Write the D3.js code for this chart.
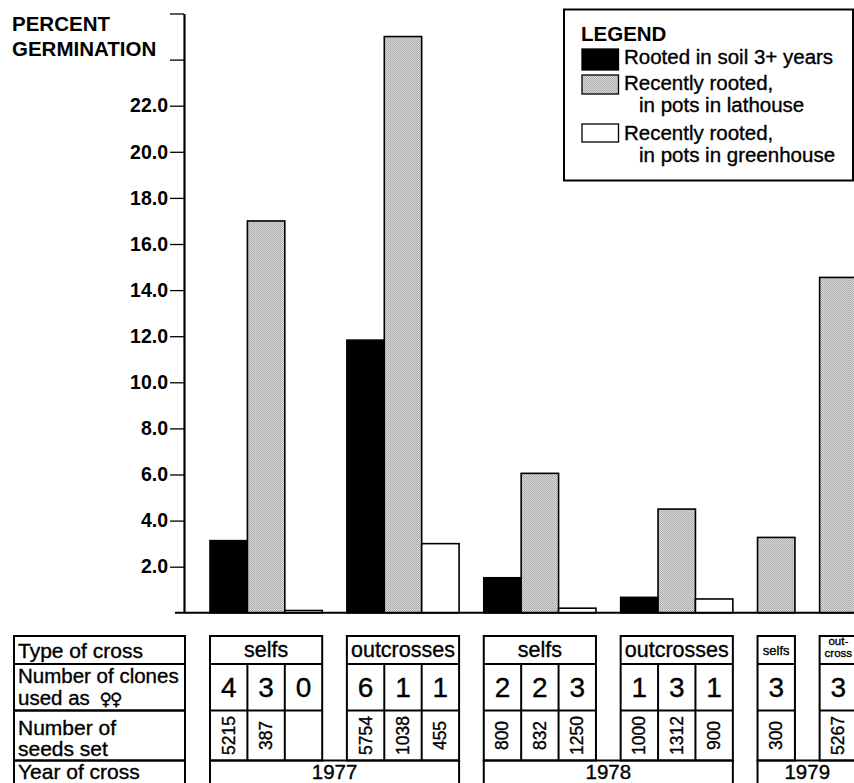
<!DOCTYPE html>
<html><head><meta charset="utf-8">
<script src="https://cdn.jsdelivr.net/npm/d3@7"></script>
<style>
html,body{margin:0;padding:0;background:#fff;}
svg{display:block;font-family:"Liberation Sans",Arial,Helvetica,sans-serif;}
.ink{stroke:#000;stroke-width:0.35px;}
</style></head><body>
<svg id="chart" width="854" height="783"></svg>
<script>
// Germination of seed from crosses, by year and type of cross
const crossTypes   = ["selfs", "outcrosses", "selfs", "outcrosses", "selfs", "out-|cross"];
const crossYears   = ["1977", "1977", "1978", "1978", "1979", "1979"];
const soilValues       = [3.13, 11.83, 1.52, 0.67, null, null];   // rooted in soil 3+ years
const lathouseValues   = [17.0, 25.0, 6.05, 4.5, 3.27, 14.55];    // recently rooted, lathouse
const greenhouseValues = [0.1, 3.0, 0.2, 0.6, null, null];        // recently rooted, greenhouse
const clonesUsed = [[4, 3, 0], [6, 1, 1], [2, 2, 3], [1, 3, 1], [3], [3]];
const seedsSet   = [["5215", "387", ""], ["5754", "1038", "455"], ["800", "832", "1250"],
                    ["1000", "1312", "900"], ["300"], ["5267"]];
const labeledTicks = [2, 4, 6, 8, 10, 12, 14, 16, 18, 20, 22];
const plainTicks   = [24, 26];
const rowLabels = [["Type of cross"], ["Number of clones", "used as "],
                   ["Number of", "seeds set"], ["Year of cross"]];
const femaleSign = "\u2640\u2640";
const legendLabels = [["Rooted in soil 3+ years"], ["Recently rooted,", "in pots in lathouse"],
                      ["Recently rooted,", "in pots in greenhouse"]];

const svg = d3.select("#chart");
const FONT = '"Liberation Sans", Arial, Helvetica, sans-serif';

// halftone-like grey fill
const defs = svg.append("defs");
const pat = defs.append("pattern").attr("id", "screen")
  .attr("width", 2).attr("height", 2).attr("patternUnits", "userSpaceOnUse");
pat.append("rect").attr("width", 2).attr("height", 2).attr("fill", "#d9d9d9");
pat.append("rect").attr("width", 1).attr("height", 1).attr("fill", "#a6a6a6");
pat.append("rect").attr("x", 1).attr("y", 1).attr("width", 1).attr("height", 1).attr("fill", "#b2b2b2");
const fills = ["#000", "url(#screen)", "#fff"];

// slot layout: one slot per bar/column, with a gap between groups
const slotGap = 0.66;
const groupStart = [];
let acc = 0;
clonesUsed.forEach(c => { groupStart.push(acc); acc += c.length + slotGap; });

const x = d3.scaleLinear().domain([0, 1]).range([210, 247.4]);
const y = d3.scaleLinear().domain([0, 26]).range([612.8, 13.5]);

// bars
const bars = [];
clonesUsed.forEach((c, g) => {
  const vals = [soilValues[g], lathouseValues[g], greenhouseValues[g]];
  if (c.length === 3) {
    vals.forEach((v, s) => { if (v != null) bars.push({slot: groupStart[g] + s, v, s}); });
  } else {
    bars.push({slot: groupStart[g], v: vals[1], s: 1});
  }
});
svg.append("g").selectAll("rect").data(bars).join("rect")
  .attr("x", d => x(d.slot))
  .attr("width", d => x(d.slot + 1) - x(d.slot))
  .attr("y", d => y(d.v))
  .attr("height", d => y(0) - y(d.v))
  .attr("fill", d => fills[d.s])
  .attr("stroke", "#000").attr("stroke-width", 1.6);

// baseline
svg.append("line").attr("x1", 175).attr("x2", 854)
  .attr("y1", y(0)).attr("y2", y(0)).attr("stroke", "#000").attr("stroke-width", 2);

// y axis
const axis = d3.axisLeft(y)
  .tickValues(labeledTicks.concat(plainTicks))
  .tickFormat(d => labeledTicks.includes(d) ? d.toFixed(1) : "")
  .tickSize(14).tickSizeOuter(0).tickPadding(2);
const ax = svg.append("g").attr("transform", "translate(184,0)").call(axis);
ax.select(".domain").attr("stroke-width", 2.2);
ax.selectAll(".tick line").attr("stroke-width", 1.3);
ax.selectAll(".tick text").attr("font-family", FONT).attr("font-size", 19.5)
  .attr("font-weight", "bold").attr("fill", "#000");

// axis title
svg.append("text").attr("font-family", FONT).attr("font-weight", "bold").attr("font-size", 20.5)
  .selectAll("tspan").data(["PERCENT", "GERMINATION"]).join("tspan")
  .attr("x", 12).attr("y", (d, i) => 31 + i * 24.5).text(d => d);

// legend
const lg = svg.append("g");
lg.append("rect").attr("x", 564).attr("y", 9.5).attr("width", 289).attr("height", 171)
  .attr("fill", "#fff").attr("stroke", "#000").attr("stroke-width", 2);
lg.append("text").attr("x", 581).attr("y", 41).attr("font-family", FONT)
  .attr("font-weight", "bold").attr("font-size", 20.5).text("LEGEND");
const swatchY = [49, 75, 124], swatchH = [21, 19, 18];
const lineY = [[64], [90, 112], [140, 162]];
legendLabels.forEach((lines, i) => {
  lg.append("rect").attr("x", 582).attr("y", swatchY[i]).attr("width", 36.5).attr("height", swatchH[i])
    .attr("fill", fills[i]).attr("stroke", "#000").attr("stroke-width", 1.3);
  lines.forEach((t, j) => {
    lg.append("text").attr("class", "ink").attr("x", j === 0 ? 624 : 639).attr("y", lineY[i][j])
      .attr("font-family", FONT).attr("font-size", 20.5).text(t);
  });
});

// table below the bars
const rowTop = [636, 664, 710.5, 760.5, 805];
const tb = svg.append("g").attr("fill", "none").attr("stroke", "#000").attr("stroke-width", 2);
const tt = svg.append("g").attr("font-family", FONT).attr("fill", "#000").attr("class", "ink");

// row heading column
rowTop.slice(0, 4).forEach((top, r) => {
  tb.append("rect").attr("x", 14).attr("y", top).attr("width", 171).attr("height", rowTop[r + 1] - top);
});
const headBase = [[658], [683, 705], [735, 756], [779]];
rowLabels.forEach((lines, r) => {
  lines.forEach((t, j) => {
    const el = tt.append("text").attr("x", 18).attr("y", headBase[r][j])
      .attr("font-size", r === 1 ? 20.5 : 21).text(t);
    if (r === 1 && j === 1) {
      el.append("tspan").attr("font-family", '"DejaVu Sans", sans-serif').attr("font-size", 17)
        .attr("font-weight", "bold").attr("dx", 4).attr("letter-spacing", -2).text(femaleSign);
    }
  });
});

// per-group cells
clonesUsed.forEach((c, g) => {
  const x0 = x(groupStart[g]), x1 = x(groupStart[g] + c.length);
  const cx = (x0 + x1) / 2;
  tb.append("rect").attr("x", x0).attr("y", rowTop[0]).attr("width", x1 - x0).attr("height", rowTop[3] - rowTop[0]);
  tb.append("line").attr("x1", x0).attr("x2", x1).attr("y1", rowTop[1]).attr("y2", rowTop[1]);
  tb.append("line").attr("x1", x0).attr("x2", x1).attr("y1", rowTop[2]).attr("y2", rowTop[2]);
  for (let s = 1; s < c.length; s++) {
    const xs = x(groupStart[g] + s);
    tb.append("line").attr("x1", xs).attr("x2", xs).attr("y1", rowTop[1]).attr("y2", rowTop[3]);
  }
  // type of cross
  const typeLines = crossTypes[g].split("|");
  const small = c.length === 1;
  typeLines.forEach((t, j) => {
    tt.append("text").attr("x", cx).attr("text-anchor", "middle")
      .attr("y", typeLines.length === 1 ? (small ? 655 : 657) : 645 + j * 12)
      .attr("font-size", small ? (typeLines.length === 1 ? 13 : 11.5) : 21.5)
      .text(t);
  });
  // clones and seeds
  c.forEach((n, s) => {
    const sx = (x(groupStart[g] + s) + x(groupStart[g] + s + 1)) / 2;
    tt.append("text").attr("x", sx).attr("y", 697).attr("text-anchor", "middle")
      .attr("font-size", 28).text(n);
    tt.append("text").attr("transform", `translate(${sx + 6},${(rowTop[2] + rowTop[3]) / 2}) rotate(-90)`)
      .attr("text-anchor", "middle").attr("font-size", 17.5).text(seedsSet[g][s]);
  });
});

// year boxes, one per year spanning its groups
d3.groups(crossYears.map((yr, g) => ({yr, g})), d => d.yr).forEach(([yr, items]) => {
  const gA = items[0].g, gB = items[items.length - 1].g;
  const x0 = x(groupStart[gA]), x1 = x(groupStart[gB] + clonesUsed[gB].length);
  tb.append("rect").attr("x", x0).attr("y", rowTop[3]).attr("width", x1 - x0).attr("height", rowTop[4] - rowTop[3]);
  tt.append("text").attr("x", (x0 + x1) / 2).attr("y", 779).attr("text-anchor", "middle")
    .attr("font-size", 20.5).text(yr);
});
</script>
</body></html>
